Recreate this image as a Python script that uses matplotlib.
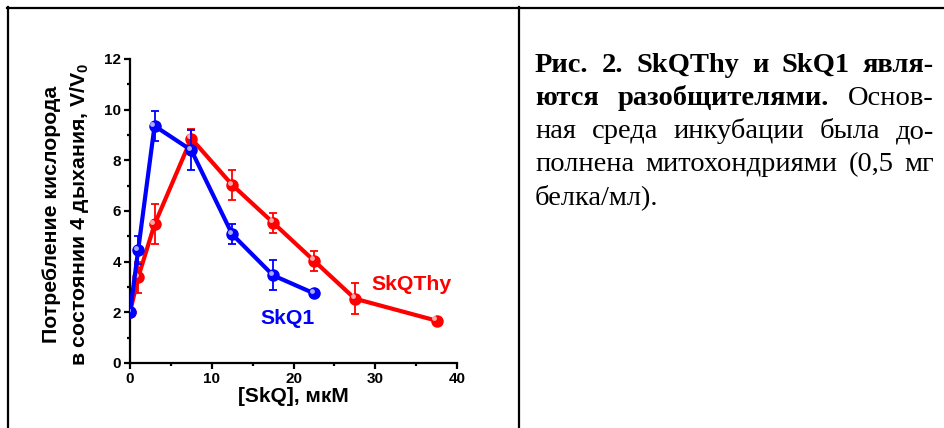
import matplotlib
matplotlib.use("Agg")
import matplotlib.pyplot as plt
from matplotlib.ticker import MultipleLocator
from matplotlib.transforms import ScaledTranslation
from matplotlib.lines import Line2D

plt.rcParams['font.family'] = ['Liberation Sans', 'DejaVu Sans']
plt.rcParams['mathtext.fontset'] = 'custom'
plt.rcParams['mathtext.rm'] = 'Liberation Sans:bold'
plt.rcParams['mathtext.bf'] = 'Liberation Sans:bold'
plt.rcParams['mathtext.it'] = 'Liberation Sans:bold'

# ---- data ----
skq1_x = [0, 1, 3, 7.5, 12.5, 17.5, 22.5]
skq1_y = [2.0, 4.46, 9.36, 8.4, 5.08, 3.46, 2.75]
skq1_err = [0.0, 0.57, 0.6, 0.8, 0.4, 0.59, 0.0]

thy_x = [0, 1, 3, 7.5, 12.5, 17.5, 22.5, 27.5, 37.5]
thy_y = [2.0, 3.38, 5.47, 8.86, 7.03, 5.54, 4.04, 2.54, 1.67]
thy_err = [0.0, 0.6, 0.79, 0.38, 0.6, 0.4, 0.4, 0.6, 0.0]

x_ticks = [0, 10, 20, 30, 40]
y_ticks = [0, 2, 4, 6, 8, 10, 12]
x_label = "[SkQ], мкМ"
y_label_1 = "Потребление кислорода"
y_label_2 = r"в состоянии 4 дыхания, V/V$_{\mathbf{0}}$"

caption_lines = [
    [("Рис.", "bold"), ("2.", "bold"), ("SkQThy", "bold"), ("и", "bold"), ("SkQ1", "bold"), ("явля-", "bold")],
    [("ются", "bold"), ("разобщителями.", "bold"), ("Основ-", "normal")],
    [("ная", "normal"), ("среда", "normal"), ("инкубации", "normal"), ("была", "normal"), ("до-", "normal")],
    [("полнена", "normal"), ("митохондриями", "normal"), ("(0,5", "normal"), ("мг", "normal")],
    [("белка/мл).", "normal")],
]

W, H = 944, 428
fig = plt.figure(figsize=(W / 100, H / 100), dpi=100)

# frame lines
fig.add_artist(Line2D([7 / W, 1.0], [1 - 7.5 / H, 1 - 7.5 / H], color='black', lw=1.6))
fig.add_artist(Line2D([8 / W, 8 / W], [0, 1 - 6.5 / H], color='black', lw=1.6))
fig.add_artist(Line2D([519 / W, 519 / W], [0, 1 - 6.5 / H], color='black', lw=1.6))

ax = fig.add_axes([130 / W, 1 - 363 / H, (457 - 130) / W, (363 - 59) / H])
ax.set_xlim(0, 40)
ax.set_ylim(0, 12)
for s in ['top', 'right']:
    ax.spines[s].set_visible(False)
for s in ['left', 'bottom']:
    ax.spines[s].set_linewidth(1.6)
ax.set_xticks(x_ticks)
ax.set_yticks(y_ticks)
ax.xaxis.set_minor_locator(MultipleLocator(5))
ax.yaxis.set_minor_locator(MultipleLocator(1))
ax.tick_params(which='major', direction='out', length=4, width=1.6, labelsize=11, pad=2.5)
ax.tick_params(which='minor', direction='out', length=2.5, width=1.6)
for lab in ax.get_xticklabels() + ax.get_yticklabels():
    lab.set_fontweight('bold')

ax.set_xlabel(x_label, fontsize=15, fontweight='bold', labelpad=1)

fig.text(52 / W, 1 - 214 / H, y_label_1, rotation=90, ha='center', va='center',
         fontsize=15.3, fontweight='bold')
fig.text(80 / W, 1 - 214 / H, y_label_2, rotation=90, ha='center', va='center',
         fontsize=15.3, fontweight='bold')

hl = ax.transData + ScaledTranslation(-1.6 / 72, 1.6 / 72, fig.dpi_scale_trans)

def draw_series(x, y, err, color, light, z):
    ax.plot(x, y, '-', color=color, lw=3, zorder=z, solid_capstyle='round')
    ex = [a for a, e in zip(x, err) if e > 0]
    ey = [b for b, e in zip(y, err) if e > 0]
    ee = [e for e in err if e > 0]
    ax.errorbar(ex, ey, yerr=ee, fmt='none', ecolor=color, elinewidth=1.3,
                capsize=3, capthick=1.3, zorder=z + 0.1)
    ax.plot(x, y, 'o', color=color, markersize=9, markeredgewidth=0, zorder=z + 0.2)
    ax.plot(x, y, 'o', color=light, markersize=3.5, markeredgewidth=0, alpha=0.85,
            transform=hl, zorder=z + 0.3)

draw_series(thy_x, thy_y, thy_err, '#ff0000', '#ffc8c8', 3)
draw_series(skq1_x, skq1_y, skq1_err, '#0000ff', '#c8c8ff', 4)

ax.text(15.9, 1.75, "SkQ1", color='#0000ff', fontsize=15.3, fontweight='bold',
        ha='left', va='center')
ax.text(29.5, 3.08, "SkQThy", color='#ff0000', fontsize=15.3, fontweight='bold',
        ha='left', va='center')

# justified caption
renderer = fig.canvas.get_renderer()
x_left, x_right = 535, 934
baselines = [72, 105, 138, 171, 204]
cap_fs = 20.5
for li, (words, base) in enumerate(zip(caption_lines, baselines)):
    texts = []
    for w, wt in words:
        t = fig.text(0, 1 - base / H, w, fontsize=cap_fs, fontweight=wt,
                     family=['Liberation Serif', 'DejaVu Serif'], ha='left', va='baseline')
        texts.append(t)
    widths = [t.get_window_extent(renderer).width for t in texts]
    last = (li == len(caption_lines) - 1)
    if last or len(texts) == 1:
        gap = 6
    else:
        gap = (x_right - x_left - sum(widths)) / (len(texts) - 1)
    xpos = x_left
    for t, wdt in zip(texts, widths):
        t.set_x(xpos / W)
        xpos += wdt + gap

fig.savefig("out.png", dpi=100)
